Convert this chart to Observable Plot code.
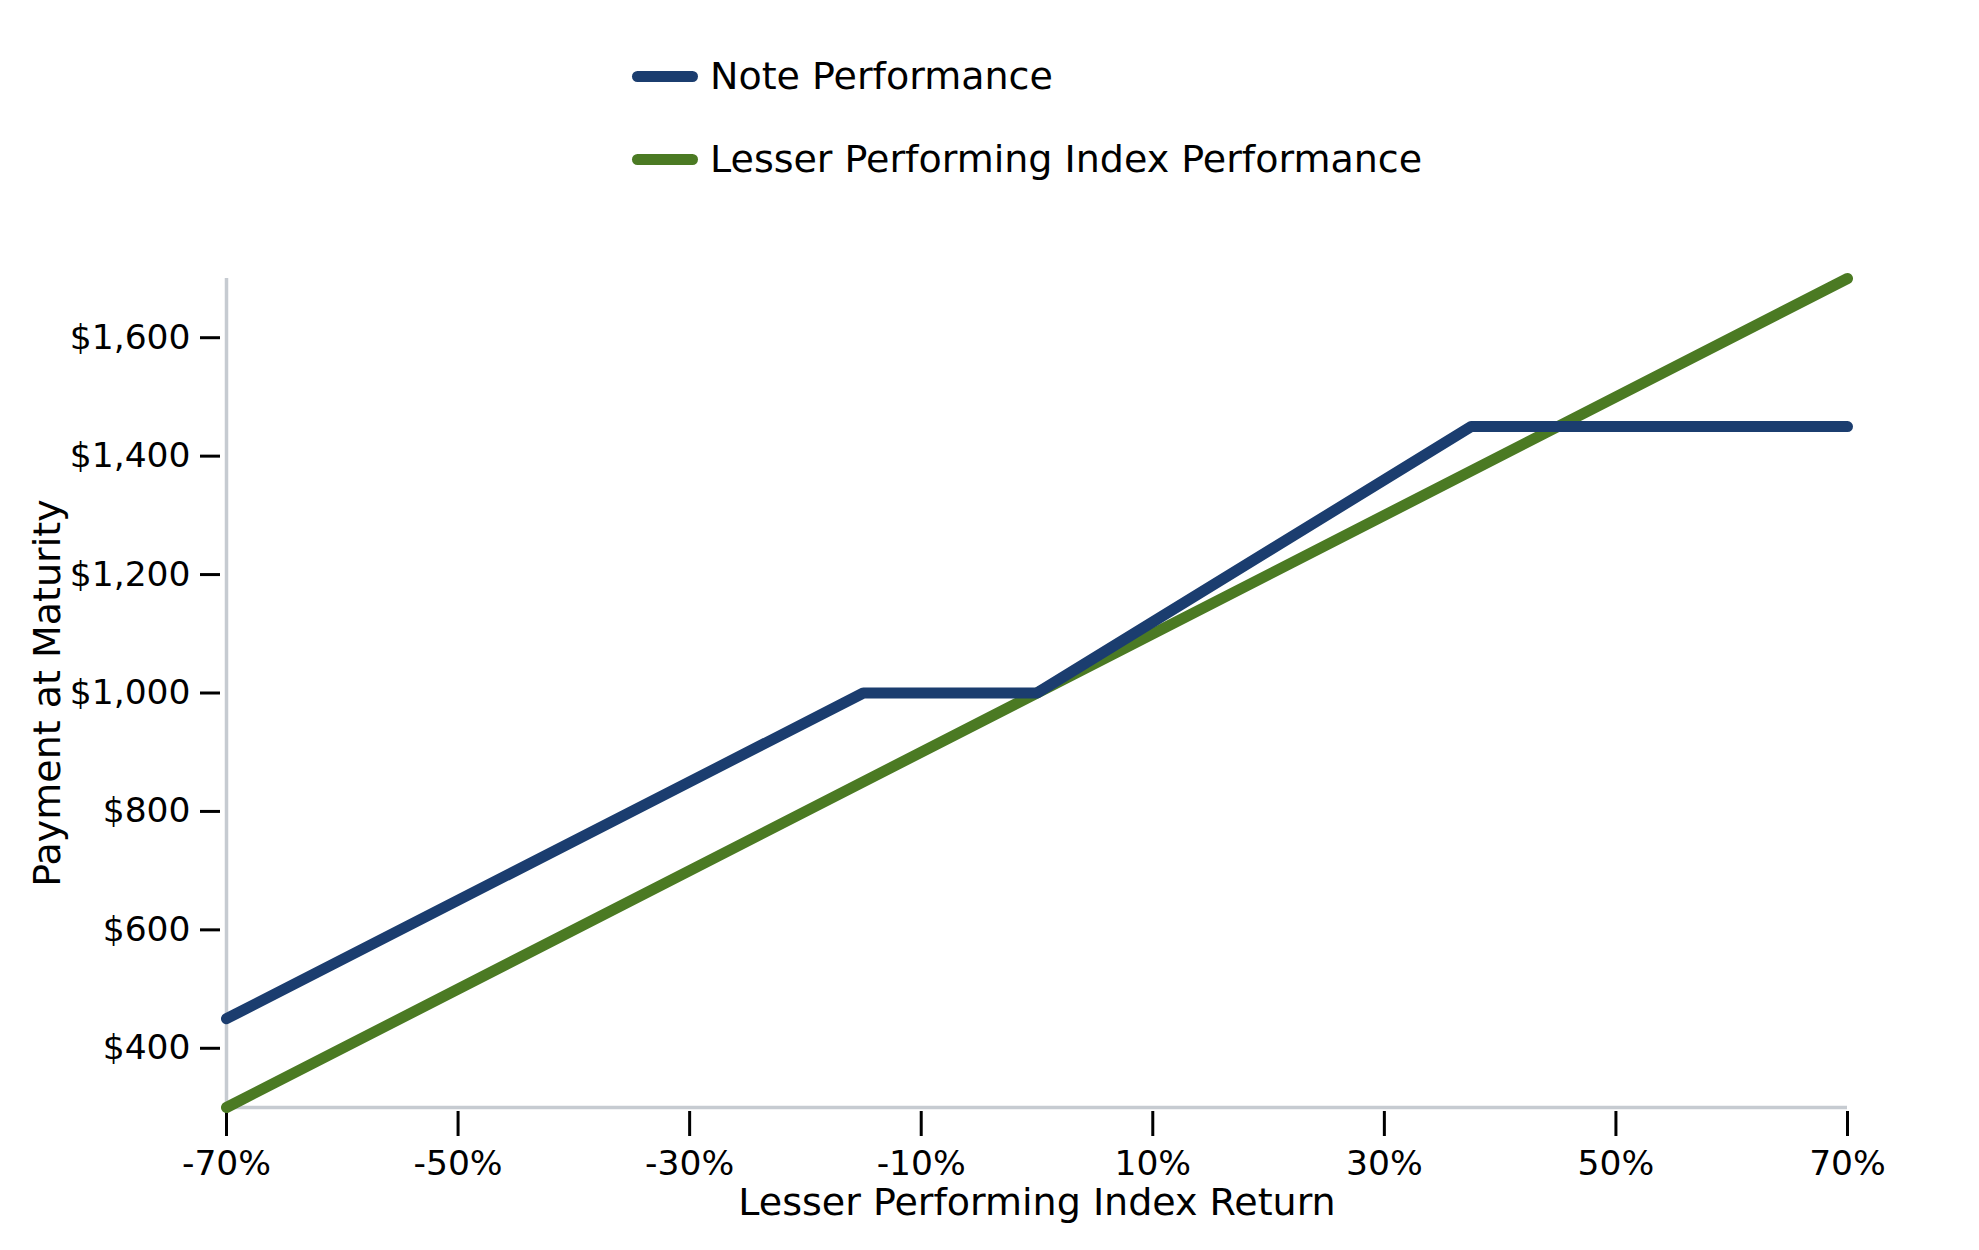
<!DOCTYPE html>
<html>
<head>
<meta charset="utf-8">
<script src="https://cdn.jsdelivr.net/npm/d3@7"></script>
<script src="https://cdn.jsdelivr.net/npm/@observablehq/plot@0.6"></script>
<style>
  html, body { margin: 0; padding: 0; background: #fff; }
  #wrap { position: relative; width: 1979px; height: 1250px; font-family: "DejaVu Sans", sans-serif; }
  #legend { position: absolute; left: 632px; top: 46px; }
  .item { display: flex; align-items: center; height: 60px; margin-bottom: 23px; font-size: 38px; color: #000; }
  .sw { width: 66px; height: 11px; border-radius: 6px; margin-right: 12px; }
  #chart { position: absolute; left: 0; top: 0; }
</style>
</head>
<body>
<div id="wrap">
  <div id="chart"></div>
  <div id="legend"></div>
</div>
<script>
// Data (breakpoints of each series)
const seriesNames = ["Note Performance", "Lesser Performing Index Performance"];
const seriesColors = ["#1b3d6f", "#4b7a23"];

const noteReturns = [-0.70, -0.15, 0.00, 0.375, 0.70];
const notePayments = [450, 1000, 1000, 1450, 1450];

const indexReturns = [-0.70, 0.70];
const indexPayments = [300, 1700];

const xTicks = [-0.7, -0.5, -0.3, -0.1, 0.1, 0.3, 0.5, 0.7];
const yTicks = [400, 600, 800, 1000, 1200, 1400, 1600];

const note = noteReturns.map((r, i) => ({r, p: notePayments[i]}));
const index = indexReturns.map((r, i) => ({r, p: indexPayments[i]}));

const chart = Plot.plot({
  width: 1979,
  height: 1250,
  marginLeft: 226,
  marginRight: 132,
  marginTop: 278,
  marginBottom: 143,
  style: {fontFamily: "DejaVu Sans, sans-serif", fontSize: "34px", color: "#000", background: "#fff"},
  x: {domain: [-0.7, 0.7]},
  y: {domain: [300, 1700]},
  marks: [
    Plot.ruleX([-0.7], {stroke: "#c6cbd1", strokeWidth: 3.5}),
    Plot.ruleY([300], {stroke: "#c6cbd1", strokeWidth: 3.5}),
    Plot.axisY({
      ticks: yTicks, tickSize: 20, dx: -6, tickPadding: 10,
      tickFormat: d => "$" + d3.format(",")(d),
      strokeWidth: 3, fontSize: 34.5, label: null
    }),
    Plot.axisX({
      ticks: xTicks, tickSize: 25, dy: 4, tickPadding: 14,
      tickFormat: d => Math.round(d * 100) + "%",
      strokeWidth: 3, fontSize: 34.5, label: null
    }),
    Plot.text(["Lesser Performing Index Return"], {
      frameAnchor: "bottom", dy: 107, fontSize: 38, fill: "#000"
    }),
    Plot.text(["Payment at Maturity"], {
      frameAnchor: "left", textAnchor: "middle", dx: -179, rotate: -90, fontSize: 38, fill: "#000"
    }),
    Plot.line(index, {x: "r", y: "p", stroke: seriesColors[1], strokeWidth: 11, strokeLinecap: "round", strokeLinejoin: "round"}),
    Plot.line(note, {x: "r", y: "p", stroke: seriesColors[0], strokeWidth: 11, strokeLinecap: "round", strokeLinejoin: "round"})
  ]
});
document.getElementById("chart").appendChild(chart);

const legend = document.getElementById("legend");
seriesNames.forEach((name, i) => {
  const item = document.createElement("div");
  item.className = "item";
  const sw = document.createElement("div");
  sw.className = "sw";
  sw.style.background = seriesColors[i];
  const label = document.createElement("span");
  label.textContent = name;
  item.appendChild(sw);
  item.appendChild(label);
  legend.appendChild(item);
});
</script>
</body>
</html>
